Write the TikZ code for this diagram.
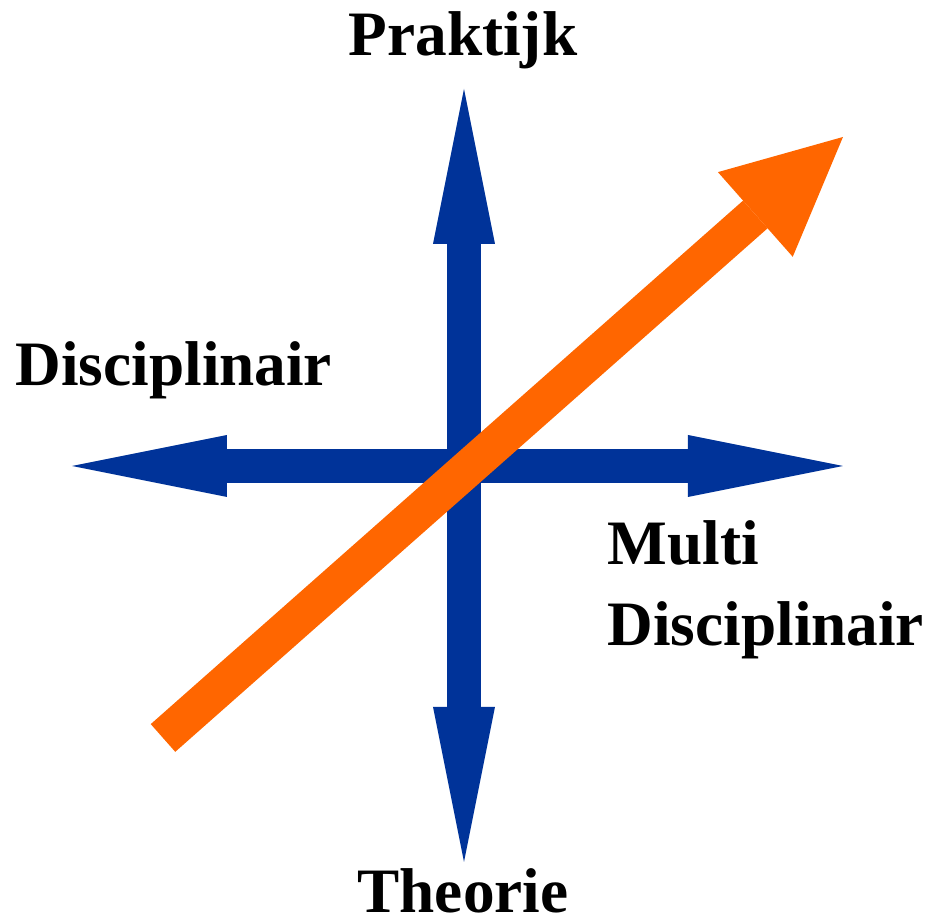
\documentclass[tikz,border=0pt]{standalone}
\usepackage{fontspec}
\setmainfont{Liberation Serif}
\usepackage{xcolor}
\usepackage{tikz}
\usetikzlibrary{arrows.meta,positioning}

\definecolor{axisblue}{HTML}{003399}
\definecolor{trendorange}{HTML}{FF6600}

\begin{document}
\begin{tikzpicture}[
    word/.style={font=\bfseries\fontsize{18}{23}\selectfont, inner sep=0pt, align=left},
    axis/.style={draw=axisblue, line width=0.34cm,
      -{Triangle[length=1.55cm,width=0.62cm,line width=0pt]}},
    trend/.style={draw=trendorange, line width=0.37cm,
      -{Triangle[length=1.17cm,width=1.13cm,line width=0pt]}}
  ]
    \useasboundingbox (0,0) rectangle (9.31,9.22);
    % centre and end points of the axes
    \coordinate (c) at (4.64,4.56);
    \coordinate (top) at (4.64,8.33);
    \coordinate (bottom) at (4.64,0.60);
    \coordinate (left) at (0.72,4.56);
    \coordinate (right) at (8.43,4.56);
    \coordinate (tail) at (1.63,1.84);
    \coordinate (tip) at (8.43,7.85);
    \draw[axis] (c) -- (top);
    \draw[axis] (c) -- (bottom);
    \draw[axis] (c) -- (left);
    \draw[axis] (c) -- (right);
    \draw[trend] (tail) -- (tip);
    % labels
    \node[word] (prak) at (4.63,8.82) {Praktijk};
    \node[word, anchor=west] (disc) at (0.15,5.52) {Disciplinair};
    \node[word, anchor=west] (multi) at (6.07,3.32) {Multi\\Disciplinair};
    \node[word, anchor=base] (theo) at (4.63,0.09) {Theorie};
  \end{tikzpicture}
\end{document}
